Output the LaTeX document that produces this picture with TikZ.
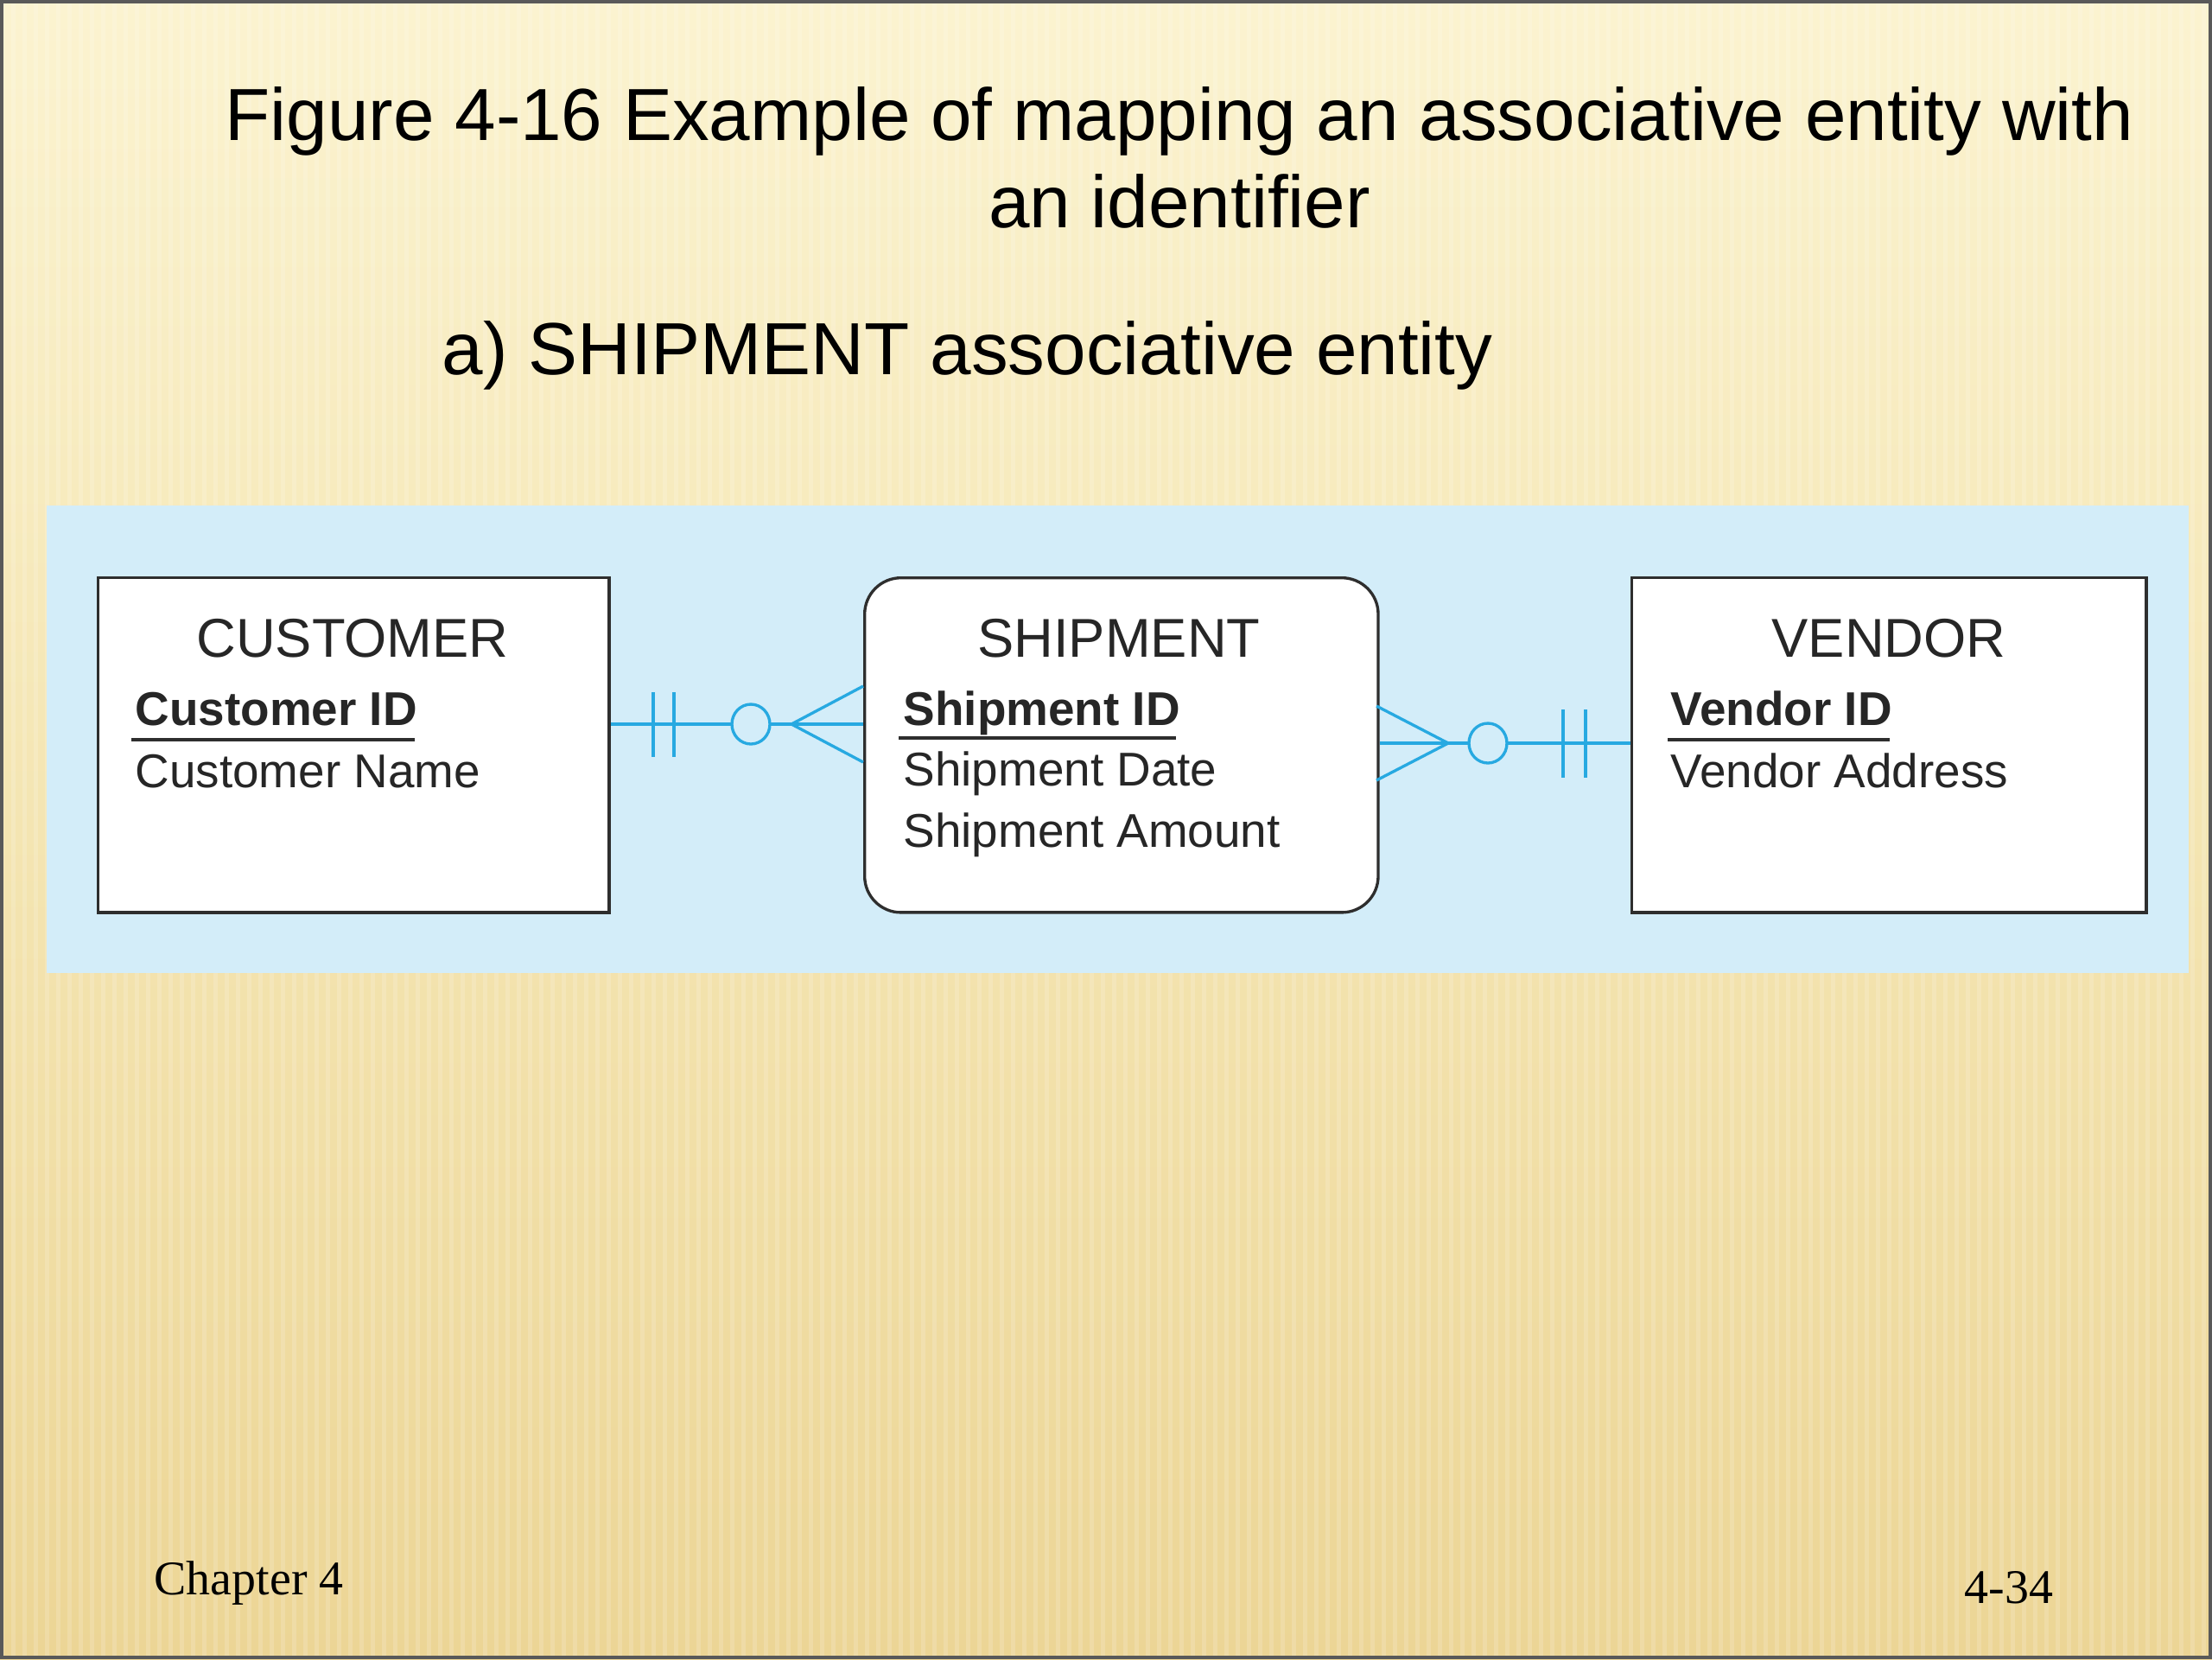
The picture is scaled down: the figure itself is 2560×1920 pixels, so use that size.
\documentclass[tikz,border=0pt]{standalone}
\usepackage{fontspec}
\setmainfont{Liberation Sans}
\newfontfamily\footfont{Liberation Serif}
\usetikzlibrary{calc}
\definecolor{bgtop}{HTML}{FBF3D0}
\definecolor{bgmid}{HTML}{F4E5B2}
\definecolor{bgbot}{HTML}{ECD595}
\definecolor{panelc}{HTML}{D3EDF9}
\definecolor{relc}{HTML}{27A9E1}
\definecolor{boxline}{HTML}{2E2E2E}
\begin{document}
\begin{tikzpicture}[x=0.01cm,y=-0.01cm,
  entity/.style={draw=boxline,line width=0.95pt,fill=white,anchor=north west,
    minimum height=3.87cm,inner sep=0pt},
  etitle/.style={anchor=base,inner sep=0pt,font=\fontsize{18}{21}\selectfont,text=black!85},
  attr/.style={anchor=base west,inner sep=0pt,font=\fontsize{15.6}{18}\selectfont,text=black!85},
  key/.style={attr,font=\fontsize{15.6}{18}\selectfont\bfseries},
  uline/.style={draw=boxline,line width=0.9pt},
  relline/.style={draw=relc,line width=1.35pt},
  relmark/.style={draw=relc,line width=0.95pt},
  headtext/.style={inner sep=0pt,font=\fontsize{24.3}{28.7}\selectfont},
  foottext/.style={anchor=base west,inner sep=0pt,font=\footfont\fontsize{15.9}{18}\selectfont}
]
\useasboundingbox (0,0) rectangle (2560,1920);
% background
\shade[top color=bgtop,bottom color=bgbot,middle color=bgmid] (0,0) rectangle (2560,1920);
\foreach \i in {0,13,...,2560} {\fill[white,opacity=0.16] (\i,0) rectangle (\i+5,1920);}
\draw[black!65,line width=1.2pt] (2,2) rectangle (2558,1918);

% titles
\node[headtext,anchor=base,align=center] (title) at (1365,263)
  {Figure 4-16 Example of mapping an associative entity with\\an identifier};
\node[headtext,anchor=base west] (sub) at (511,433) {a) SHIPMENT associative entity};

% panel
\fill[panelc] (54,585) rectangle (2533,1126);

% entities
\node[entity,minimum width=5.91cm] (cust) at (112,667) {};
\node[entity,minimum width=5.94cm,rounded corners=0.42cm] (ship) at (999,667) {};
\node[entity,minimum width=5.95cm] (vend) at (1887,667) {};

\node[etitle] (custT) at (408,760) {CUSTOMER};
\node[key] (custK) at (156,839) {Customer ID};
\node[attr] (custA) at (156,911) {Customer Name};
\draw[uline] ($(custK.base west)+(-4,17)$) -- ($(custK.base east)+(-4,17)$);

\node[etitle] (shipT) at (1295,760) {SHIPMENT};
\node[key] (shipK) at (1045,839) {Shipment ID};
\node[attr] (shipA) at (1045,909) {Shipment Date};
\node[attr] (shipB) at (1045,980) {Shipment Amount};
\draw[uline] ($(shipK.base west)+(-5,15)$) -- ($(shipK.base east)+(-5,15)$);

\node[etitle] (vendT) at (2186,760) {VENDOR};
\node[key] (vendK) at (1933,839) {Vendor ID};
\node[attr] (vendA) at (1933,911) {Vendor Address};
\draw[uline] ($(vendK.base west)+(-3,17)$) -- ($(vendK.base east)+(-3,17)$);

% left relationship
\coordinate (ly) at (0,838);
\draw[relline] (cust.east |- ly) -- (ship.west |- ly);
\draw[relmark] (756,801) -- (756,876) (780,801) -- (780,876);
\draw[relmark] (999,794) -- (916,838) -- (999,882);
\draw[relmark,fill=panelc] (869,838) ellipse [x radius=22, y radius=23];

% right relationship
\coordinate (ry) at (0,860);
\draw[relline] (ship.east |- ry) -- (vend.west |- ry);
\draw[relmark] (1809,821) -- (1809,900) (1835,821) -- (1835,900);
\draw[relmark] (1593,817) -- (1676,860) -- (1593,903);
\draw[relmark,fill=panelc] (1722,860) ellipse [x radius=22, y radius=23];

% footer
\node[foottext] (chap) at (178,1845) {Chapter 4};
\node[foottext] (pnum) at (2273,1855) {4-34};
\end{tikzpicture}
\end{document}
